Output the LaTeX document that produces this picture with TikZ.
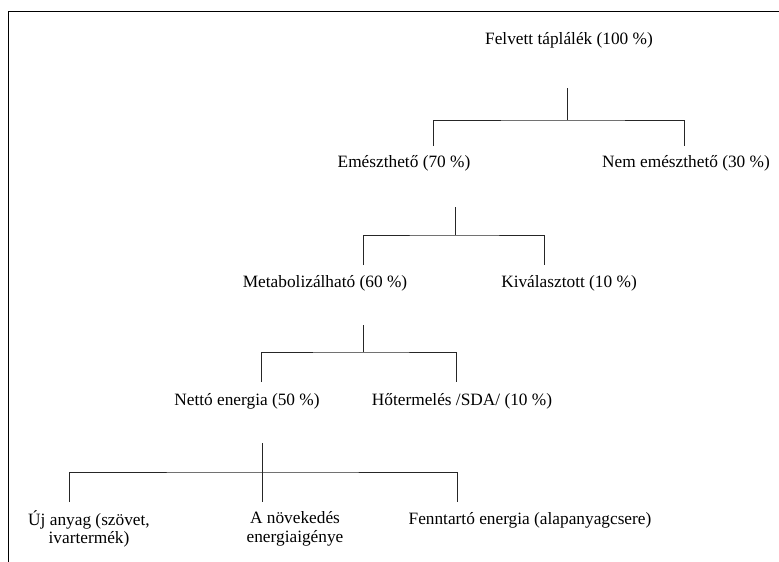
\documentclass[tikz,border=0pt]{standalone}
\usepackage{fontspec}
\setmainfont{Liberation Serif}
\tikzset{
  lbl/.style={font=\fontsize{17.3}{18.5}\selectfont, inner sep=0pt, align=center},
  branch/.style={draw=black!85, line width=0.7pt},
}

\begin{document}
\begin{tikzpicture}[x=1pt,y=-1pt]
  \useasboundingbox (0,0) rectangle (779,562);
  \draw[line width=0.9pt] (8,562) -- (8,11) -- (779,11);

  % labels
  \node[lbl] (felvett) at (569,40) {Felvett táplálék (100 \%)};
  \node[lbl] (emeszt) at (404,163) {Emészthető (70 \%)};
  \node[lbl] (nememeszt) at (686,163) {Nem emészthető (30 \%)};
  \node[lbl] (metab) at (325,283) {Metabolizálható (60 \%)};
  \node[lbl] (kival) at (569,283) {Kiválasztott (10 \%)};
  \node[lbl] (netto) at (247,401) {Nettó energia (50 \%)};
  \node[lbl] (hoterm) at (462,401) {Hőtermelés /SDA/ (10 \%)};
  \node[lbl] (ujanyag) at (89,529) {Új anyag (szövet,\\ivartermék)};
  \node[lbl] (novek) at (295,529) {A növekedés\\energiaigénye};
  \node[lbl] (fenntart) at (530,520) {Fenntartó energia (alapanyagcsere)};

  % branch points
  \coordinate (s1) at (567,88);  \coordinate (j1) at (567,120);
  \coordinate (d1a) at (433,146); \coordinate (d1b) at (684,146);
  \coordinate (s2) at (455,207); \coordinate (j2) at (455,235);
  \coordinate (d2a) at (363,265); \coordinate (d2b) at (544,265);
  \coordinate (s3) at (363,325); \coordinate (j3) at (363,352);
  \coordinate (d3a) at (261,382); \coordinate (d3b) at (456,382);
  \coordinate (s4) at (262,443); \coordinate (j4) at (262,472);
  \coordinate (d4a) at (69,502); \coordinate (d4b) at (262,502);
  \coordinate (d4c) at (457,502);

  \foreach \n in {1,2,3}{
    \draw[branch] (s\n) -- (j\n);
    \draw[branch] (d\n a) |- (j\n) -| (d\n b);
  }
  \draw[branch] (s4) -- (d4b);
  \draw[branch] (d4a) |- (j4) -| (d4c);
\end{tikzpicture}
\end{document}
